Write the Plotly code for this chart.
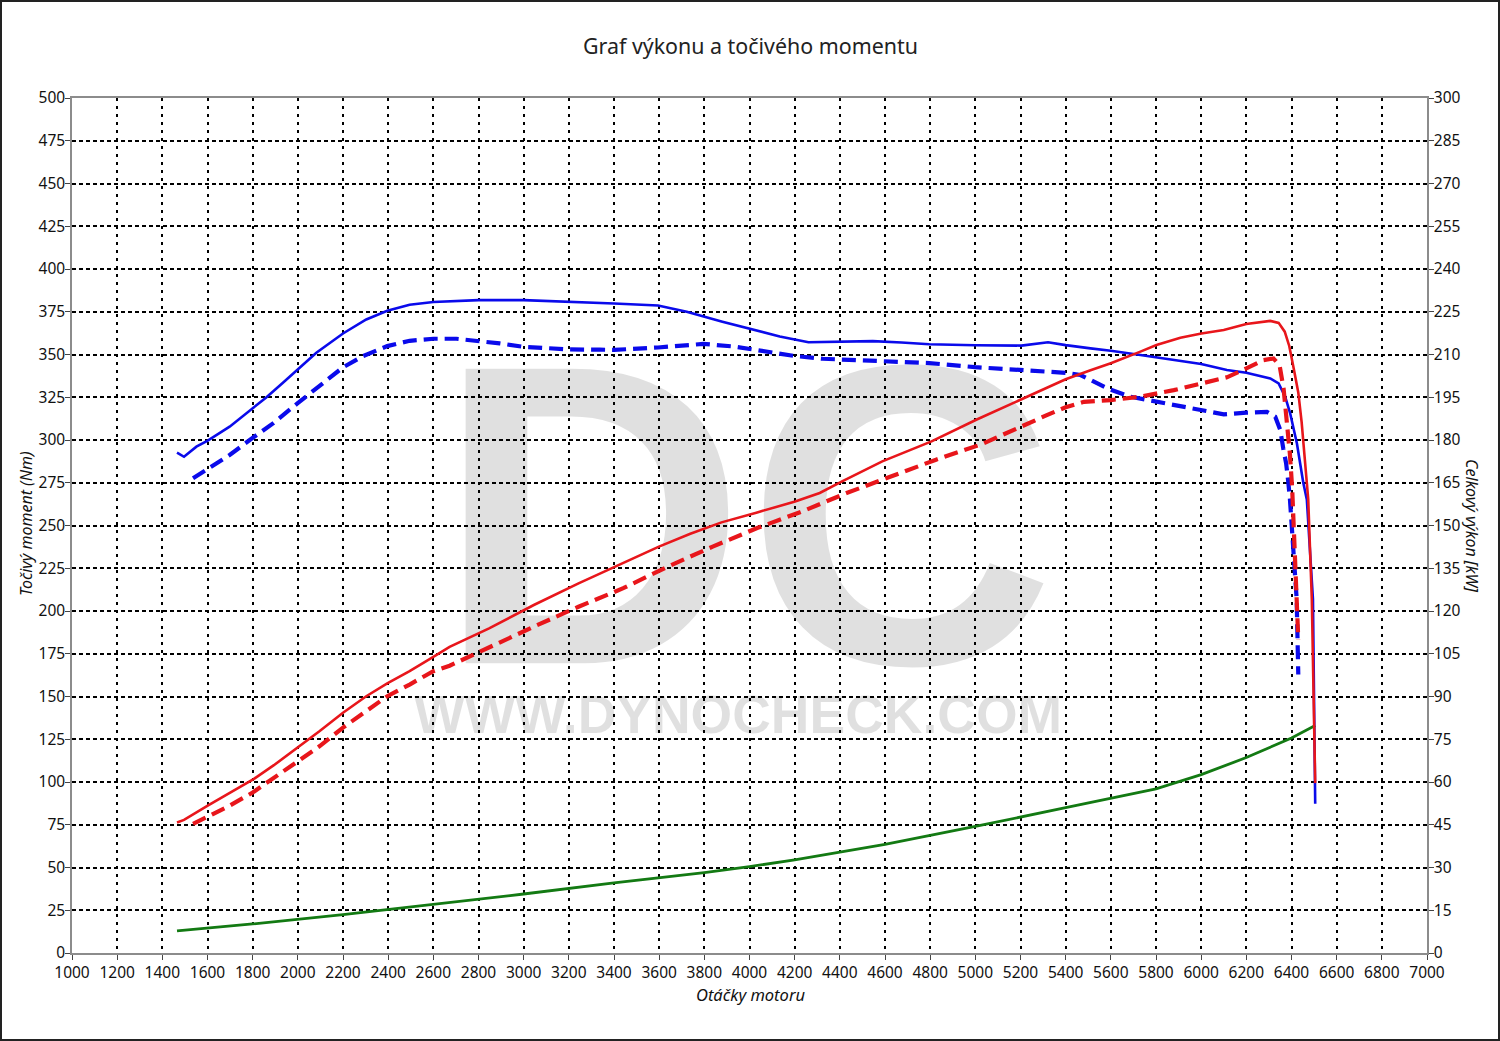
import plotly.graph_objects as go

# ---------------- data ----------------
rpm_torque_tuned = [1465, 1496, 1551, 1601, 1698, 1787, 1860, 1934, 1998, 2082, 2200, 2303, 2396, 2495,
                    2600, 2800, 3000, 3200, 3400, 3595, 3722, 3880, 4000, 4134, 4261, 4400, 4546, 4673,
                    4796, 5000, 5204, 5322, 5400, 5510, 5600, 5731, 5879, 6000, 6114, 6200, 6306, 6343,
                    6372, 6394, 6424, 6452, 6468, 6495, 6505]
torque_tuned = [292.6, 290.2, 296.1, 299.6, 307.8, 317.1, 324.9, 333.5, 341.3, 351.0, 362.3, 370.5, 375.6, 379.1,
                380.7, 381.8, 381.8, 381.0, 379.8, 378.7, 375.0, 369.2, 365.3, 360.5, 357.2, 357.4, 357.8, 357.0,
                356.0, 355.4, 355.2, 357.2, 355.5, 353.6, 352.2, 349.7, 346.7, 344.4, 340.9, 339.3, 336.0, 333.1,
                325.3, 315.6, 298.0, 275.2, 265.0, 207.0, 87.3]

rpm_torque_stock = [1536, 1601, 1698, 1787, 1890, 1998, 2097, 2200, 2289, 2396, 2495, 2600, 2702, 2801,
                    2894, 2997, 3115, 3200, 3337, 3400, 3595, 3796, 3928, 4086, 4197, 4324, 4514, 4673,
                    4796, 4998, 5204, 5290, 5400, 5466, 5584, 5687, 5802, 5908, 6001, 6100, 6200, 6291,
                    6328, 6350, 6364, 6376, 6386, 6393, 6423, 6430]
torque_stock = [277.6, 282.8, 291.2, 300.0, 309.7, 321.4, 332.1, 342.5, 349.1, 354.9, 358.0, 359.2, 359.2, 358.0,
                356.5, 354.5, 353.4, 353.0, 352.8, 352.7, 354.1, 356.2, 354.7, 351.7, 349.2, 347.5, 346.5, 345.9,
                345.0, 342.6, 340.7, 339.9, 339.3, 338.0, 330.2, 325.3, 322.4, 319.9, 317.5, 315.0, 316.0, 316.5,
                313.6, 306.0, 294.7, 286.5, 275.2, 265.5, 206.8, 162.9]

rpm_power_tuned = [1465, 1496, 1601, 1698, 1800, 1894, 2000, 2097, 2200, 2303, 2396, 2495, 2600, 2672,
                   2847, 3045, 3243, 3441, 3599, 3738, 3876, 4034, 4202, 4311, 4410, 4588, 4806, 5004,
                   5204, 5290, 5400, 5510, 5600, 5731, 5802, 5908, 6001, 6100, 6200, 6306, 6343, 6370,
                   6390, 6410, 6430, 6445, 6459, 6474, 6490, 6505]
power_tuned = [45.8, 46.7, 51.7, 56.0, 60.8, 65.9, 72.1, 77.9, 84.3, 90.1, 94.6, 98.9, 103.9, 107.4,
               113.9, 122.1, 129.7, 136.8, 142.6, 147.1, 151.1, 154.6, 158.4, 161.4, 165.5, 172.5, 179.5, 187.1,
               194.2, 197.5, 201.3, 204.5, 206.9, 211.0, 213.3, 215.9, 217.4, 218.6, 220.7, 221.8, 221.1, 218.0,
               213.0, 205.0, 196.7, 186.2, 174.5, 159.3, 124.0, 59.6]

rpm_power_stock = [1536, 1601, 1698, 1800, 1894, 2000, 2097, 2200, 2303, 2396, 2495, 2600, 2672, 2847,
                   3045, 3243, 3441, 3639, 3837, 4034, 4232, 4430, 4628, 4826, 5024, 5221, 5319, 5400,
                   5481, 5600, 5731, 5879, 6001, 6114, 6200, 6276, 6320, 6347, 6365, 6380, 6393, 6403,
                   6423, 6430]
power_stock = [45.3, 47.9, 51.7, 56.3, 61.6, 67.4, 72.6, 79.1, 84.9, 90.1, 94.2, 98.9, 100.8, 107.4,
               114.5, 121.5, 128.0, 135.6, 142.6, 149.1, 154.9, 161.4, 167.2, 173.1, 178.4, 185.5, 188.8, 191.5,
               193.4, 194.0, 195.2, 197.5, 199.9, 202.0, 205.1, 208.0, 208.6, 206.3, 198.0, 187.0, 175.0, 163.0,
               124.0, 110.0]

rpm_loss = [1465, 1800, 2200, 2600, 3000, 3400, 3800, 4000, 4200, 4600, 5000, 5400, 5600, 5800, 6000,
            6200, 6400, 6505]
loss = [13.0, 17.0, 22.5, 28.5, 34.5, 41.0, 47.0, 50.5, 54.5, 63.5, 74.0, 85.0, 90.5, 96.0, 104.3,
        114.3, 125.7, 133.0]

x_ticks = list(range(1000, 7001, 200))
y_ticks_left = list(range(0, 501, 25))
y_ticks_right = list(range(0, 301, 15))

title_text = "Graf výkonu a točivého momentu"
x_title = "Otáčky motoru"
y_title_left = "Točivý moment (Nm)"
y_title_right = "Celkový výkon [kW]"
watermark_big = "DC"
watermark_small = "WWW.DYNOCHECK.COM"

# ---------------- layout geometry ----------------
W, H = 1500, 1041
ML, MR, MT, MB = 72, 73, 98, 88
PW, PH = W - ML - MR, H - MT - MB


def px_x(px):
    return (px - ML) / PW


def px_y(py):
    return (H - MB - py) / PH


BLUE = "#0a0aeb"
RED = "#e8161b"
GREEN = "#137a13"
FONT = "Noto Sans"

fig = go.Figure()

# watermark (drawn first so it lies below the curves)
fig.add_trace(go.Scatter(
    x=[3985], y=[232], mode="text", text=[watermark_big], hoverinfo="skip", showlegend=False,
    textposition="middle center",
    textfont=dict(family="Liberation Sans", size=428, color="rgba(0,0,0,0.12)", weight="bold"),
))
fig.add_trace(go.Scatter(
    x=[3950], y=[136.3], mode="text", text=[watermark_small], hoverinfo="skip", showlegend=False,
    textposition="middle center",
    textfont=dict(family="Liberation Sans", size=53.5, color="rgba(0,0,0,0.12)", weight="bold"),
))

# curves
fig.add_trace(go.Scatter(x=rpm_torque_stock, y=torque_stock, mode="lines", showlegend=False,
                         line=dict(color=BLUE, width=4.2, dash="14px,7px")))
fig.add_trace(go.Scatter(x=rpm_torque_tuned, y=torque_tuned, mode="lines", showlegend=False,
                         line=dict(color=BLUE, width=2.6)))
fig.add_trace(go.Scatter(x=rpm_power_stock, y=power_stock, mode="lines", showlegend=False, yaxis="y2",
                         line=dict(color=RED, width=4.2, dash="14px,7px")))
fig.add_trace(go.Scatter(x=rpm_power_tuned, y=power_tuned, mode="lines", showlegend=False, yaxis="y2",
                         line=dict(color=RED, width=2.6)))
fig.add_trace(go.Scatter(x=rpm_loss, y=loss, mode="lines", showlegend=False,
                         line=dict(color=GREEN, width=2.8)))

axis_common = dict(
    showline=True, linecolor="#8c8c8c", linewidth=1.5,
    ticks="outside", ticklen=5, tickcolor="#444", tickwidth=1.2,
    tickfont=dict(family=FONT, size=15.5, color="#111"),
    zeroline=False, fixedrange=True,
)

fig.update_layout(
    width=W, height=H,
    margin=dict(l=ML, r=MR, t=MT, b=MB, pad=0),
    paper_bgcolor="white", plot_bgcolor="white",
    showlegend=False,
    xaxis=dict(
        range=[1000, 7000], tickvals=x_ticks, ticktext=[str(v) for v in x_ticks],
        showgrid=True, gridcolor="#000", griddash="3px,5px", gridwidth=1.5,
        mirror=True, **axis_common,
    ),
    yaxis=dict(
        range=[0, 500], tickvals=y_ticks_left, ticktext=[str(v) for v in y_ticks_left],
        showgrid=True, gridcolor="#000", griddash="4px,3px", gridwidth=1.5,
        ticklabelstandoff=-3,
        **axis_common,
    ),
    yaxis2=dict(
        range=[0, 300], tickvals=y_ticks_right, ticktext=[str(v) for v in y_ticks_right],
        overlaying="y", side="right", showgrid=False,
        ticklabelstandoff=-3,
        **axis_common,
    ),
    annotations=[
        dict(text=title_text, x=px_x(750), y=px_y(46), xref="paper", yref="paper",
             showarrow=False, xanchor="center", yanchor="middle",
             font=dict(family=FONT, size=21.4, color="#222")),
        dict(text=x_title, x=px_x(750), y=px_y(994), xref="paper", yref="paper",
             showarrow=False, xanchor="center", yanchor="middle",
             font=dict(family=FONT, size=16.5, color="#111", style="italic")),
        dict(text=y_title_left, x=px_x(26), y=px_y(524), xref="paper", yref="paper",
             showarrow=False, xanchor="center", yanchor="middle", textangle=-90,
             font=dict(family=FONT, size=16, color="#111", style="italic")),
        dict(text=y_title_right, x=px_x(1472), y=px_y(525), xref="paper", yref="paper",
             showarrow=False, xanchor="center", yanchor="middle", textangle=90,
             font=dict(family=FONT, size=16, color="#111", style="italic")),
    ],
    shapes=[
        dict(type="rect", xref="paper", yref="paper",
             x0=px_x(1), x1=px_x(1499), y0=px_y(1040), y1=px_y(1),
             line=dict(color="#222", width=2), fillcolor="rgba(0,0,0,0)", layer="above"),
    ],
)

fig.write_html(
    "out.html",
    config={"displayModeBar": False},
    post_script="document.body.style.margin='0';document.body.style.padding='0';"
                "document.documentElement.style.overflow='hidden';",
)
